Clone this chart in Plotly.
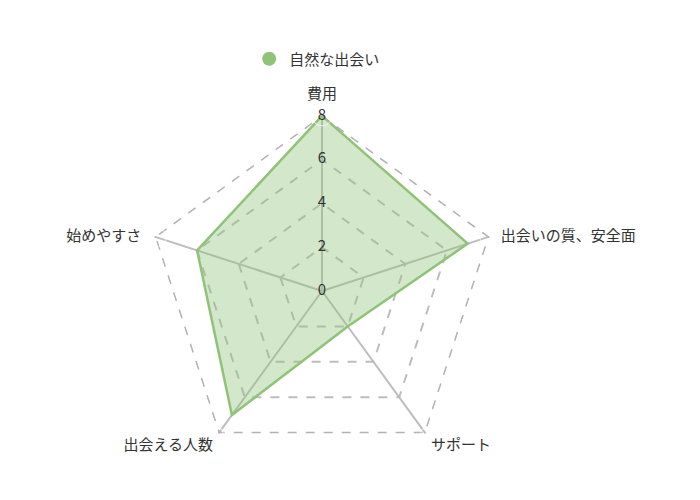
import plotly.graph_objects as go

# --- chart data ---
categories = ["費用", "出会いの質、安全面", "サポート", "出会える人数", "始めやすさ"]
scores = [8, 7, 2, 7, 6]
series_name = "自然な出会い"
radial_ticks = [0, 2, 4, 6, 8]

green = "#91c27a"
grid_color = "#bdbdbd"
text_color = "#333333"
font_family = "Noto Sans CJK JP, Noto Sans, sans-serif"
r_max = radial_ticks[-1]

fig = go.Figure()

# outer ring, dashed like the inner grid rings
fig.add_trace(go.Scatterpolar(
    r=[r_max] * (len(categories) + 1),
    theta=categories + categories[:1],
    mode="lines",
    line=dict(color="#b3b3b3", width=1.8, dash="9px,9px"),
    showlegend=False,
    hoverinfo="skip",
))

# main filled polygon
fig.add_trace(go.Scatterpolar(
    r=scores + scores[:1],
    theta=categories + categories[:1],
    mode="lines",
    fill="toself",
    fillcolor="rgba(145,194,122,0.4)",
    line=dict(color=green, width=2.5),
    name=series_name,
    showlegend=False,
    hoverinfo="skip",
))

# legend entry with a round marker
fig.add_trace(go.Scatterpolar(
    r=[None], theta=[None],
    mode="markers",
    marker=dict(color=green, size=14, symbol="circle"),
    name=series_name,
    showlegend=True,
))

# radial tick labels centred on the top axis
fig.add_trace(go.Scatterpolar(
    r=[t + 0.001 for t in radial_ticks],
    theta=[categories[0]] * len(radial_ticks),
    mode="text",
    text=[str(t) for t in radial_ticks],
    textposition="middle center",
    textfont=dict(size=15, color=text_color, family=font_family),
    showlegend=False,
    hoverinfo="skip",
    cliponaxis=False,
))

# category names next to the outer vertices (invisible markers set the gap)
fig.add_trace(go.Scatterpolar(
    r=[r_max] * len(categories),
    theta=categories,
    mode="markers+text",
    marker=dict(size=[20, 18, 8, 8, 21], color="rgba(0,0,0,0)"),
    text=categories,
    textposition=["top center", "middle right", "bottom right", "bottom left", "middle left"],
    textfont=dict(size=15, color=text_color, family=font_family),
    showlegend=False,
    hoverinfo="skip",
    cliponaxis=False,
))

fig.update_layout(
    width=700, height=500,
    paper_bgcolor="white",
    plot_bgcolor="white",
    font=dict(family=font_family, size=15, color=text_color),
    margin=dict(l=72, r=144, t=107, b=41),
    legend=dict(
        orientation="h",
        x=0.49, xanchor="center",
        y=1.159, yanchor="middle",
        font=dict(size=15),
        itemclick=False,
    ),
    polar=dict(
        bgcolor="white",
        gridshape="linear",
        radialaxis=dict(
            range=[0, 8.04],
            tickvals=radial_ticks[:-1],
            showticklabels=False,
            ticks="",
            showline=False,
            gridcolor=grid_color,
            griddash="dash",
            gridwidth=1.5,
            angle=90,
        ),
        angularaxis=dict(
            rotation=90,
            direction="clockwise",
            showline=False,
            showticklabels=False,
            ticks="",
            gridcolor=grid_color,
            gridwidth=1.5,
        ),
    ),
)

fig.write_html("out.html")
